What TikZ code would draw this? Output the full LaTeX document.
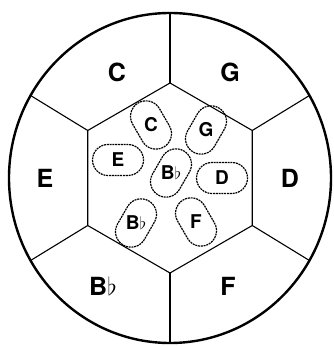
\documentclass[tikz,border=0pt]{standalone}
\usepackage{fontspec}
\setmainfont{TeX Gyre Heros}
\usetikzlibrary{shapes.misc}

\tikzset{
  keyoval/.style={draw,rounded rectangle,minimum width=51pt,minimum height=31pt,
    inner sep=0pt,line width=1.2pt,dash pattern=on 2pt off 0.8pt},
  keylabel/.style={font=\fontsize{19}{21}\selectfont\bfseries,inner sep=0pt},
  ringlabel/.style={font=\fontsize{25}{27}\selectfont\bfseries,inner sep=0pt}
}

\begin{document}
\begin{tikzpicture}[x=1pt,y=1pt,line width=1.1pt]
  \useasboundingbox (-170,-169) rectangle (163,178);
  % outer ring
  \draw[line width=2.4pt] (0,0) ellipse (161 and 165);
  % hexagon corners and spokes
  \foreach \a/\n in {90/1,150/2,210/3,270/4,330/5,30/6}{
    \coordinate (h\n) at (\a:95);
    \coordinate (r\n) at (\a:161 and 165);
    \draw (h\n) -- (r\n);
  }
  \draw (h1) -- (h2) -- (h3) -- (h4) -- (h5) -- (h6) -- cycle;

  % ring keys
  \node[ringlabel] (ringC) at (-53,106) {C};
  \node[ringlabel] (ringG) at (60,106) {G};
  \node[ringlabel] (ringE) at (-125,0) {E};
  \node[ringlabel] (ringD) at (120,0) {D};
  \node[ringlabel] (ringBb) at (-67,-108) {B$\flat$};
  \node[ringlabel] (ringF) at (58,-108) {F};

  % inner keys
  \node[keyoval,rotate=120] (ovC) at (-19,53) {};
  \node[keylabel] (keyC) at (ovC) {C};
  \node[keyoval,rotate=60] (ovG) at (36,48) {};
  \node[keylabel] (keyG) at (ovG) {G};
  \node[keyoval] (ovE) at (-52,18) {};
  \node[keylabel] (keyE) at (ovE) {E};
  \node[keyoval] (ovD) at (52,0) {};
  \node[keylabel] (keyD) at (ovD) {D};
  \node[keyoval,rotate=120] (ovF) at (26,-44) {};
  \node[keylabel] (keyF) at (ovF) {F};
  \node[keyoval,rotate=60] (ovBb) at (-34,-45) {};
  \node[keylabel] (keyBb) at (ovBb) {B$\flat$};
  \node[keyoval,rotate=60] (ovMid) at (1,5) {};
  \node[keylabel] (keyMid) at (ovMid) {B$\flat$};
\end{tikzpicture}
\end{document}
